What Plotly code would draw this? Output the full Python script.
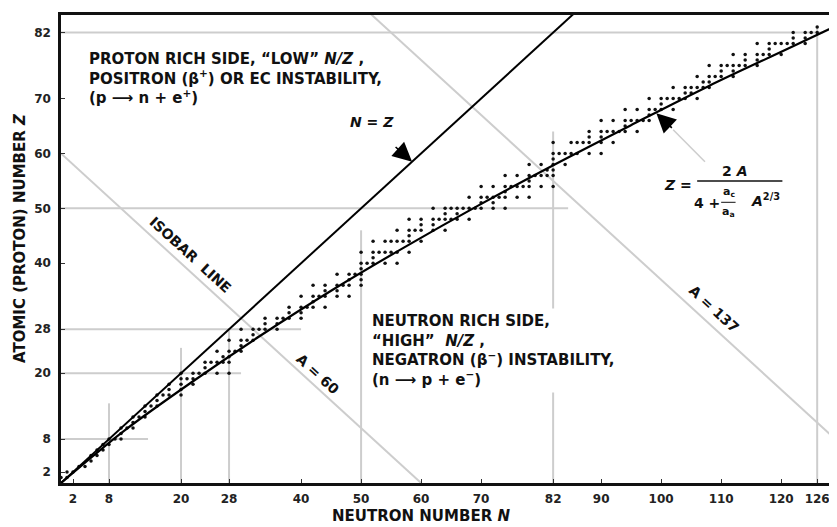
import plotly.graph_objects as go

# --- data --------------------------------------------------------------------
# stable nuclides: proton number and the neutron numbers of its stable isotopes
element_z = list(range(1, 84))
stable_n = [
    [0, 1], [1, 2], [3, 4], [5], [5, 6], [6, 7], [7, 8], [8, 9, 10], [10],
    [10, 11, 12], [12], [12, 13, 14], [14], [14, 15, 16], [16], [16, 17, 18, 20],
    [18, 20], [18, 20, 22], [20, 21, 22], [20, 22, 23, 24, 26, 28], [24],
    [24, 25, 26, 27, 28], [27, 28], [26, 28, 29, 30], [30], [28, 30, 31, 32],
    [32], [30, 32, 33, 34, 36], [34, 36], [34, 36, 37, 38, 40], [38, 40],
    [38, 40, 41, 42, 44], [42], [40, 42, 43, 44, 46, 48], [44, 46],
    [42, 44, 46, 47, 48, 50], [48, 50], [46, 48, 49, 50], [50],
    [50, 51, 52, 54, 56], [52], [50, 52, 53, 54, 55, 56, 58], [],
    [52, 54, 55, 56, 57, 58, 60], [58], [56, 58, 59, 60, 62, 64], [60, 62],
    [58, 60, 62, 63, 64, 65, 66, 68], [64, 66],
    [62, 64, 65, 66, 67, 68, 69, 70, 72, 74], [70, 72],
    [68, 70, 71, 72, 73, 74, 76, 78], [74], [70, 72, 74, 75, 76, 77, 78, 80, 82],
    [78], [74, 76, 78, 79, 80, 81, 82], [81, 82], [78, 80, 82, 84], [82],
    [82, 83, 84, 85, 86, 88, 90], [], [82, 85, 86, 87, 88, 90, 92], [88, 90],
    [88, 90, 91, 92, 93, 94, 96], [94], [90, 92, 94, 95, 96, 97, 98], [98],
    [94, 96, 98, 99, 100, 102], [100], [98, 100, 101, 102, 103, 104, 106],
    [104, 105], [102, 104, 105, 106, 107, 108], [107, 108],
    [106, 108, 109, 110, 112], [110, 112], [108, 110, 111, 112, 113, 114, 116],
    [114, 116], [112, 114, 116, 117, 118, 120], [118],
    [116, 118, 119, 120, 121, 122, 124], [122, 124], [122, 124, 125, 126], [126],
]

# line of stability Z = 2A / (4 + ac/aa A^2/3)
curve_n = [0, 5.2, 10.5, 21.7, 33.2, 45.0, 57.2, 69.5, 82.1, 94.9, 107.8, 121.0, 130.9]
curve_z = [0, 4.8, 9.5, 18.3, 26.8, 35.0, 42.9, 50.5, 57.9, 65.1, 72.2, 79.0, 84.1]

# magic-number guide lines (value, where the segment stops)
magic_z = [8, 20, 28, 50, 82]
magic_z_end_n = [14.5, 30, 40, 84.5, 127]
magic_n = [8, 20, 28, 50, 82, 126]
magic_n_end_z = [14.5, 24.6, 28, 46, 64, 83]

# isobars A = N + Z
isobar_a = [60, 137]

x_ticks = [2, 8, 20, 28, 40, 50, 60, 70, 82, 90, 100, 110, 120, 126]
y_ticks = [2, 8, 20, 28, 40, 50, 60, 70, 82]

X_MAX = 129.3
Y_MAX = 85.2
GRAY = "#cdcdcd"
FONT = "DejaVu Sans, sans-serif"

fig = go.Figure()

# gray guide lines
for z, n_end in zip(magic_z, magic_z_end_n):
    fig.add_shape(type="line", x0=0, x1=n_end, y0=z, y1=z, layer="below",
                  line=dict(color=GRAY, width=2))
for n, z_end in zip(magic_n, magic_n_end_z):
    fig.add_shape(type="line", x0=n, x1=n, y0=0, y1=z_end, layer="below",
                  line=dict(color=GRAY, width=2))
for a in isobar_a:
    fig.add_shape(type="line", x0=0, x1=a, y0=a, y1=0, layer="below",
                  line=dict(color=GRAY, width=2))
# leader from the formula to its arrow
fig.add_shape(type="line", x0=102.0, y0=64.3, x1=107.3, y1=58.5, layer="below",
              line=dict(color=GRAY, width=1.5))

# stable nuclides
pts_n, pts_z = [], []
for z, ns in zip(element_z, stable_n):
    for n in ns:
        pts_n.append(n)
        pts_z.append(z)
fig.add_trace(go.Scatter(x=pts_n, y=pts_z, mode="markers",
                         marker=dict(size=3.5, color="#111111", symbol="circle"),
                         hoverinfo="x+y"))

# N = Z
fig.add_trace(go.Scatter(x=[0, Y_MAX + 2], y=[0, Y_MAX + 2], mode="lines",
                         line=dict(color="black", width=2)))
# stability curve
fig.add_trace(go.Scatter(x=curve_n, y=curve_z, mode="lines",
                         line=dict(color="black", width=2.2, shape="spline")))

ann = []


def txt(x, y, s, size=12, angle=0, anchor="left", bg=None, ref="x", pad=1):
    d = dict(x=x, y=y, text=s, showarrow=False, xanchor=anchor, yanchor="middle",
             align="left", textangle=angle,
             font=dict(family=FONT, size=size, color="#111111", weight="bold"))
    if ref == "paper":
        d.update(xref="paper", yref="paper")
    if bg:
        d.update(bgcolor=bg, borderpad=pad)
    return d


proton_lines = [
    "PROTON RICH SIDE, \u201cLOW\u201d <i>N/Z</i> ,",
    "POSITRON (\u03b2<sup>+</sup>) OR EC INSTABILITY,",
    "(p \u27f6 n + e<sup>+</sup>)",
]
ann.append(txt(4.4, 73.6, "<br>".join(proton_lines), size=15))

neutron_lines = [
    "NEUTRON RICH SIDE,",
    "\u201cHIGH\u201d  <i>N/Z</i> ,",
    "NEGATRON (\u03b2<sup>\u2212</sup>) INSTABILITY,",
    "(n \u27f6 p + e<sup>\u2212</sup>)",
]
ann.append(txt(51.2, 24.2, "<br>".join(neutron_lines), size=15, bg="white", pad=3))

ann.append(txt(51.9, 65.8, "<i>N</i> = <i>Z</i>", size=14, anchor="center"))
ann.append(txt(21.6, 41.5, "ISOBAR  LINE", size=14, angle=42.5, anchor="center"))
ann.append(txt(42.8, 19.9, "A = 60", size=14, angle=42.5, anchor="center"))
ann.append(txt(108.8, 31.6, "A = 137", size=14, angle=42.5, anchor="center"))

# formula
ann.append(txt(102.8, 54.3, "<i>Z</i> =", size=14, anchor="center"))
ann.append(txt(112.3, 56.8, "2 <i>A</i>", size=14, anchor="center"))
ann.append(txt(107.6, 51.0, "4 +", size=14, anchor="center"))
ann.append(txt(111.3, 52.9, "a<sub>c</sub>", size=11, anchor="center"))
ann.append(txt(111.3, 49.3, "a<sub>a</sub>", size=11, anchor="center"))
ann.append(txt(117.4, 51.6, "<i>A</i><sup>2/3</sup>", size=14, anchor="center"))
fig.add_shape(type="line", x0=106.0, x1=120.2, y0=55.0, y1=55.0,
              line=dict(color="#111111", width=1.5))
fig.add_shape(type="line", x0=110.0, x1=112.4, y0=51.1, y1=51.1,
              line=dict(color="#111111", width=1))

# arrowheads
for x, y, ax, ay in [(58.5, 58.5, -18, -16), (99.2, 67.3, 17, 16)]:
    ann.append(dict(x=x, y=y, text="", showarrow=True, ax=ax, ay=ay,
                    arrowhead=2, arrowsize=2.4, arrowwidth=1.6, arrowcolor="black"))

# axis titles
ann.append(txt(-0.0528, 0.5235, "ATOMIC (PROTON) NUMBER <i>Z</i>", size=15,
               angle=-90, anchor="center", ref="paper"))
ann.append(txt(0.464, -0.0705, "NEUTRON NUMBER <i>N</i>", size=15,
               anchor="center", ref="paper"))

tick_font = dict(family=FONT, size=12, color="#222222", weight="bold")
# the page body adds an 8px margin; the figure is shrunk by that much so the
# plot area lands where it sits in the reference
fig.update_layout(
    width=829, height=519,
    margin=dict(l=53, r=0, t=7, b=44),
    paper_bgcolor="white", plot_bgcolor="white",
    showlegend=False,
    annotations=ann,
    xaxis=dict(range=[0, X_MAX], tickvals=x_ticks, ticktext=[str(v) for v in x_ticks],
               showgrid=False, zeroline=False, showline=True, linecolor="#111111",
               linewidth=2.5, mirror=True, ticks="inside", ticklen=4,
               tickcolor="#333333", tickfont=tick_font, ticklabelstandoff=3),
    yaxis=dict(range=[0, Y_MAX], tickvals=y_ticks, ticktext=[str(v) for v in y_ticks],
               showgrid=False, zeroline=False, showline=True, linecolor="#111111",
               linewidth=2.5, ticks="inside", ticklen=4, tickcolor="#333333",
               tickfont=tick_font, ticklabelstandoff=5),
)

fig.write_html("out.html")
